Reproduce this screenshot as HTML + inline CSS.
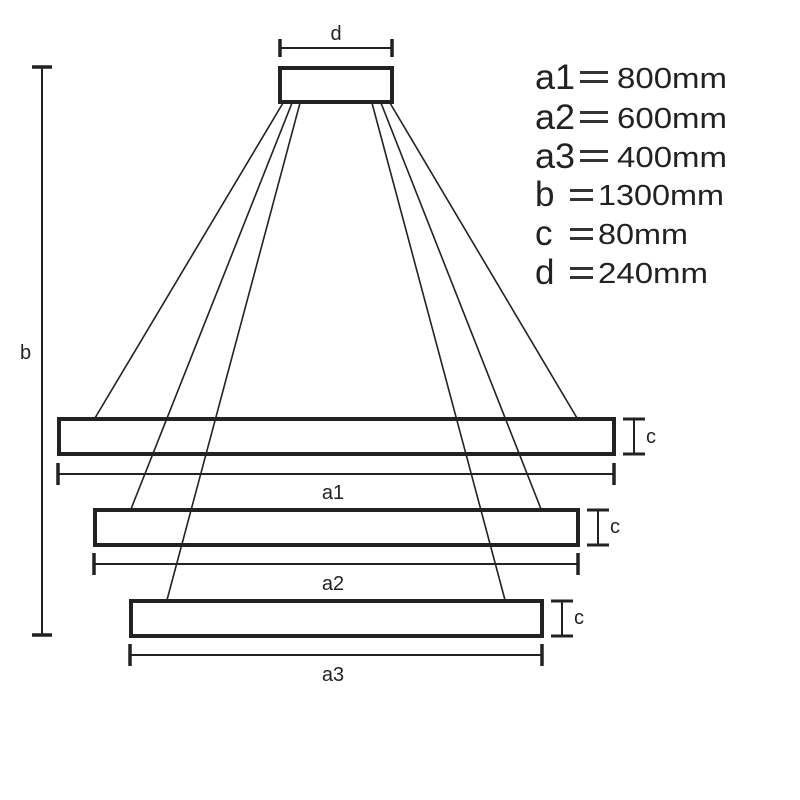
<!DOCTYPE html>
<html><head><meta charset="utf-8"><style>
html,body{margin:0;padding:0;background:#fff;width:800px;height:800px;overflow:hidden}
svg text{font-family:"Liberation Sans",Arial,sans-serif;fill:#222}
</style></head><body>
<svg width="800" height="800" viewBox="0 0 800 800" xmlns="http://www.w3.org/2000/svg">
<g stroke="#222" fill="none">
<g stroke-width="4">
<rect x="280" y="68" width="112" height="34" fill="#fff"/>
<rect x="59" y="419" width="555" height="35"/>
<rect x="95" y="510" width="483" height="35"/>
<rect x="131" y="601" width="411" height="35"/>
</g>
<g stroke-width="1.6">
<line x1="283" y1="103" x2="95" y2="418"/>
<line x1="292" y1="103" x2="131" y2="509"/>
<line x1="300" y1="103" x2="167" y2="600"/>
<line x1="372" y1="103" x2="505" y2="600"/>
<line x1="381" y1="103" x2="541" y2="509"/>
<line x1="390" y1="103" x2="577" y2="418"/>
</g>
<line x1="280" y1="48" x2="392" y2="48" stroke-width="2"/>
<g stroke-width="3.5">
<line x1="280" y1="39" x2="280" y2="57"/>
<line x1="392" y1="39" x2="392" y2="57"/>
</g>
<line x1="42" y1="67" x2="42" y2="635" stroke-width="2"/>
<line x1="32" y1="67" x2="52" y2="67" stroke-width="3.5"/>
<line x1="32" y1="635" x2="52" y2="635" stroke-width="3.5"/>
<g stroke-width="2">
<line x1="58" y1="474" x2="614" y2="474"/>
<line x1="94" y1="564" x2="578" y2="564"/>
<line x1="130" y1="655" x2="542" y2="655"/>
</g>
<g stroke-width="3.5">
<line x1="58" y1="463" x2="58" y2="485"/><line x1="614" y1="463" x2="614" y2="485"/>
<line x1="94" y1="553" x2="94" y2="575"/><line x1="578" y1="553" x2="578" y2="575"/>
<line x1="130" y1="644" x2="130" y2="666"/><line x1="542" y1="644" x2="542" y2="666"/>
</g>
<g stroke-width="2">
<line x1="634" y1="419" x2="634" y2="454"/>
<line x1="598" y1="510" x2="598" y2="545"/>
<line x1="562" y1="601" x2="562" y2="636"/>
</g>
<g stroke-width="3">
<line x1="623" y1="419" x2="645" y2="419"/><line x1="623" y1="454" x2="645" y2="454"/>
<line x1="587" y1="510" x2="609" y2="510"/><line x1="587" y1="545" x2="609" y2="545"/>
<line x1="551" y1="601" x2="573" y2="601"/><line x1="551" y1="636" x2="573" y2="636"/>
</g>
<g fill="#333" stroke="none">
<rect x="580" y="71" width="28" height="3"/><rect x="580" y="80" width="28" height="3"/>
<rect x="580" y="111" width="28" height="3"/><rect x="580" y="120" width="28" height="3"/>
<rect x="580" y="150" width="28" height="3"/><rect x="580" y="159" width="28" height="3"/>
<rect x="570" y="189" width="23" height="3"/><rect x="570" y="198" width="23" height="3"/>
<rect x="570" y="228" width="23" height="3"/><rect x="570" y="237" width="23" height="3"/>
<rect x="570" y="267" width="23" height="3"/><rect x="570" y="276" width="23" height="3"/>
</g>
</g>
<g font-size="20">
<text x="336" y="40" text-anchor="middle">d</text>
<text x="20" y="359">b</text>
<text x="333" y="499" text-anchor="middle">a1</text>
<text x="333" y="590" text-anchor="middle">a2</text>
<text x="333" y="681" text-anchor="middle">a3</text>
<text x="646" y="443">c</text>
<text x="610" y="533">c</text>
<text x="574" y="624">c</text>
</g>
<g font-size="35">
<text x="535" y="89" textLength="40" lengthAdjust="spacingAndGlyphs">a1</text>
<text x="535" y="129" textLength="40" lengthAdjust="spacingAndGlyphs">a2</text>
<text x="535" y="168" textLength="40" lengthAdjust="spacingAndGlyphs">a3</text>
<text x="535" y="206">b</text>
<text x="535" y="245">c</text>
<text x="535" y="284">d</text>
</g>
<g font-size="29">
<text x="617" y="88" textLength="110" lengthAdjust="spacingAndGlyphs">800mm</text>
<text x="617" y="128" textLength="110" lengthAdjust="spacingAndGlyphs">600mm</text>
<text x="617" y="167" textLength="110" lengthAdjust="spacingAndGlyphs">400mm</text>
<text x="598" y="205" textLength="126" lengthAdjust="spacingAndGlyphs">1300mm</text>
<text x="598" y="244" textLength="90" lengthAdjust="spacingAndGlyphs">80mm</text>
<text x="598" y="283" textLength="110" lengthAdjust="spacingAndGlyphs">240mm</text>
</g>
</svg>
</body></html>
